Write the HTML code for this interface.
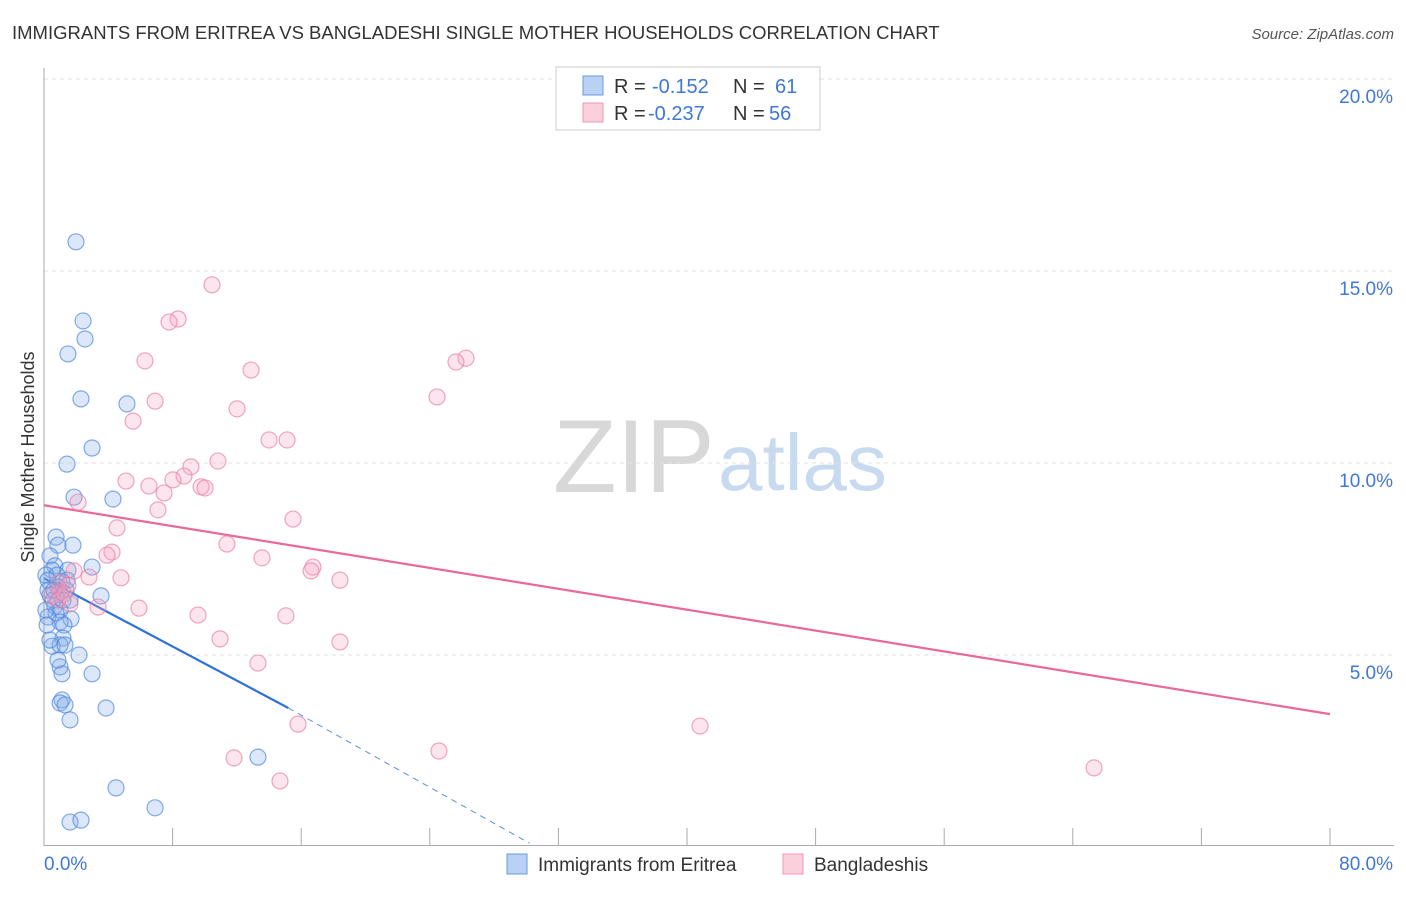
<!DOCTYPE html>
<html><head><meta charset="utf-8"><style>
body{margin:0;background:#fff;font-family:"Liberation Sans",sans-serif;}
svg text{font-family:"Liberation Sans",sans-serif;}
</style></head><body>
<svg id="chart" width="1406" height="892" viewBox="0 0 1406 892" xmlns="http://www.w3.org/2000/svg">
<text x="12" y="39" font-size="18.5" fill="#333">IMMIGRANTS FROM ERITREA VS BANGLADESHI SINGLE MOTHER HOUSEHOLDS CORRELATION CHART</text>
<text x="1394" y="39" font-size="15" fill="#555" text-anchor="end" font-style="italic">Source: ZipAtlas.com</text>
<g>
<text x="553" y="492" font-size="104" fill="#d8d8d8" font-family="Liberation Serif, serif">ZIP</text>
<text x="718" y="490" font-size="80" fill="#c8daf0">atlas</text>
</g>
<g id="grid"></g>
<g id="axes"></g>
<text transform="translate(34,457) rotate(-90)" font-size="18" fill="#333" text-anchor="middle">Single Mother Households</text>
<g id="trends"></g>
<g id="points"></g>
<g>
<rect x="556" y="67" width="264" height="63" fill="#fff" stroke="#ccc"/>
<rect x="583" y="76" width="20" height="19" fill="#b9d1f3" stroke="#6c9ade"/>
<rect x="583" y="103" width="20" height="19" fill="#fbd0dc" stroke="#ee98b2"/>
<text x="614" y="93" font-size="20" fill="#333">R =</text>
<text x="652" y="93" font-size="20" fill="#3f78d6">-0.152</text>
<text x="733" y="93" font-size="20" fill="#333">N =</text>
<text x="775" y="93" font-size="20" fill="#3f78d6">61</text>
<text x="614" y="120" font-size="20" fill="#333">R =</text>
<text x="648" y="120" font-size="20" fill="#3f78d6">-0.237</text>
<text x="733" y="120" font-size="20" fill="#333">N =</text>
<text x="769" y="120" font-size="20" fill="#3f78d6">56</text>
</g>
<g>
<rect x="507" y="854" width="20" height="20" fill="#b9d1f3" stroke="#6c9ade"/>
<text x="538" y="871" font-size="19" fill="#333">Immigrants from Eritrea</text>
<rect x="783" y="854" width="20" height="20" fill="#fbd0dc" stroke="#ee98b2"/>
<text x="814" y="871" font-size="19" fill="#333">Bangladeshis</text>
</g>
</svg>
<script>
const xTicks=[0,8,16,24,32,40,48,56,64,72,80];
const yTicks=[5,10,15,20];
const blueX=[1.99,2.43,2.55,1.49,2.30,5.16,2.99,1.43,1.87,4.29,0.75,0.87,1.80,0.37,0.68,0.50,1.49,2.99,0.12,0.81,0.25,1.12,0.87,1.37,0.37,3.55,1.62,0.68,1.00,0.75,0.25,1.68,1.00,1.24,1.18,0.50,1.00,1.31,2.18,1.00,1.12,2.99,1.12,1.00,1.31,3.86,1.62,4.48,6.91,1.62,2.30,13.31,0.25,0.56,0.12,1.18,0.37,0.87,0.19,1.43,0.62];
const blueY=[15.76,13.70,13.23,12.84,11.67,11.54,10.39,9.97,9.11,9.06,8.07,7.86,7.86,7.58,7.32,7.21,7.21,7.29,7.08,7.08,6.95,6.90,6.77,6.69,6.56,6.54,6.43,6.28,6.17,6.09,5.99,5.94,5.86,5.78,5.44,5.23,5.26,5.26,5.00,4.69,4.51,4.51,3.83,3.75,3.70,3.62,3.31,1.54,1.02,0.65,0.70,2.34,6.69,6.43,6.17,6.43,5.39,4.87,5.78,6.95,6.69];
const pinkX=[10.45,8.34,7.78,26.25,25.63,6.28,12.88,6.91,24.45,12.01,5.54,14.00,15.12,10.82,9.14,8.71,8.02,6.53,5.10,7.47,9.77,10.02,7.09,2.12,15.49,4.54,11.38,4.23,3.92,13.56,16.73,16.61,1.87,18.41,2.80,4.79,0.93,1.49,1.00,0.50,0.87,1.24,3.36,1.62,5.91,9.58,15.05,10.95,18.41,13.31,15.80,40.81,24.57,11.82,14.68,65.32];
const pinkY=[14.64,13.75,13.67,12.73,12.63,12.66,12.42,11.61,11.72,11.41,11.09,10.60,10.60,10.05,9.90,9.66,9.56,9.40,9.53,9.22,9.38,9.35,8.78,8.98,8.54,8.31,7.89,7.68,7.60,7.53,7.29,7.19,7.19,6.95,7.03,7.01,6.88,6.82,6.64,6.54,6.43,6.59,6.25,6.33,6.22,6.04,6.02,5.42,5.34,4.79,3.20,3.15,2.50,2.32,1.72,2.06];
const blueTrend=[[0,7.0],[15.2,3.62],[30.2,0.1]];
const pinkTrend=[[0,8.9],[80,3.46]];
const NS='http://www.w3.org/2000/svg';
const sx=v=>44+v*16.075;
const sy=v=>847-v*38.4;
function mk(tag,attrs,parent){const e=document.createElementNS(NS,tag);for(const k in attrs)e.setAttribute(k,attrs[k]);parent.appendChild(e);return e;}
const grid=document.getElementById('grid'),axes=document.getElementById('axes'),pts=document.getElementById('points'),tr=document.getElementById('trends');
yTicks.forEach(t=>{
 const l=mk('line',{x1:44,y1:sy(t),x2:1394,y2:sy(t),stroke:'#e2e2e2','stroke-dasharray':'4,4'},grid);
 
 
 const tx=mk('text',{x:1393,y:sy(t)+24,'font-size':19,fill:'#3f78d6','text-anchor':'end'},axes);
 tx.textContent=t.toFixed(1)+'%';
 
 
});
mk('line',{x1:44,y1:68,x2:44,y2:846,stroke:'#aaa'},axes);
mk('line',{x1:44,y1:845.5,x2:1394,y2:845.5,stroke:'#aaa'},axes);
xTicks.forEach(t=>{
 const l=mk('line',{x1:sx(t),y1:828,x2:sx(t),y2:846,stroke:'#aaa'},axes);
 
 
});
const xl0=mk('text',{x:44,y:870,'font-size':19,fill:'#3f78d6'},axes);xl0.textContent='0.0%';


const xl1=mk('text',{x:1393,y:870,'font-size':19,fill:'#3f78d6','text-anchor':'end'},axes);xl1.textContent='80.0%';


blueX.forEach((x,i)=>{
 const c=mk('circle',{cx:sx(x),cy:sy(blueY[i]),r:8,fill:'rgba(130,172,235,0.28)',stroke:'rgba(80,135,220,0.7)','stroke-width':1.2},pts);
 
 
});
pinkX.forEach((x,i)=>{
 const c=mk('circle',{cx:sx(x),cy:sy(pinkY[i]),r:8,fill:'rgba(245,160,190,0.28)',stroke:'rgba(232,130,165,0.7)','stroke-width':1.2},pts);
 
 
});
const b1=mk('line',{x1:sx(blueTrend[0][0]),y1:sy(blueTrend[0][1]),x2:sx(blueTrend[1][0]),y2:sy(blueTrend[1][1]),stroke:'#2f72d6','stroke-width':2.2},tr);


const b2=mk('line',{x1:sx(blueTrend[1][0]),y1:sy(blueTrend[1][1]),x2:sx(blueTrend[2][0]),y2:sy(blueTrend[2][1]),stroke:'#5b8fd9','stroke-width':1,'stroke-dasharray':'6,5'},tr);


const p1=mk('line',{x1:sx(pinkTrend[0][0]),y1:sy(pinkTrend[0][1]),x2:sx(pinkTrend[1][0]),y2:sy(pinkTrend[1][1]),stroke:'#e8699a','stroke-width':2.2},tr);


</script>
</body></html>
